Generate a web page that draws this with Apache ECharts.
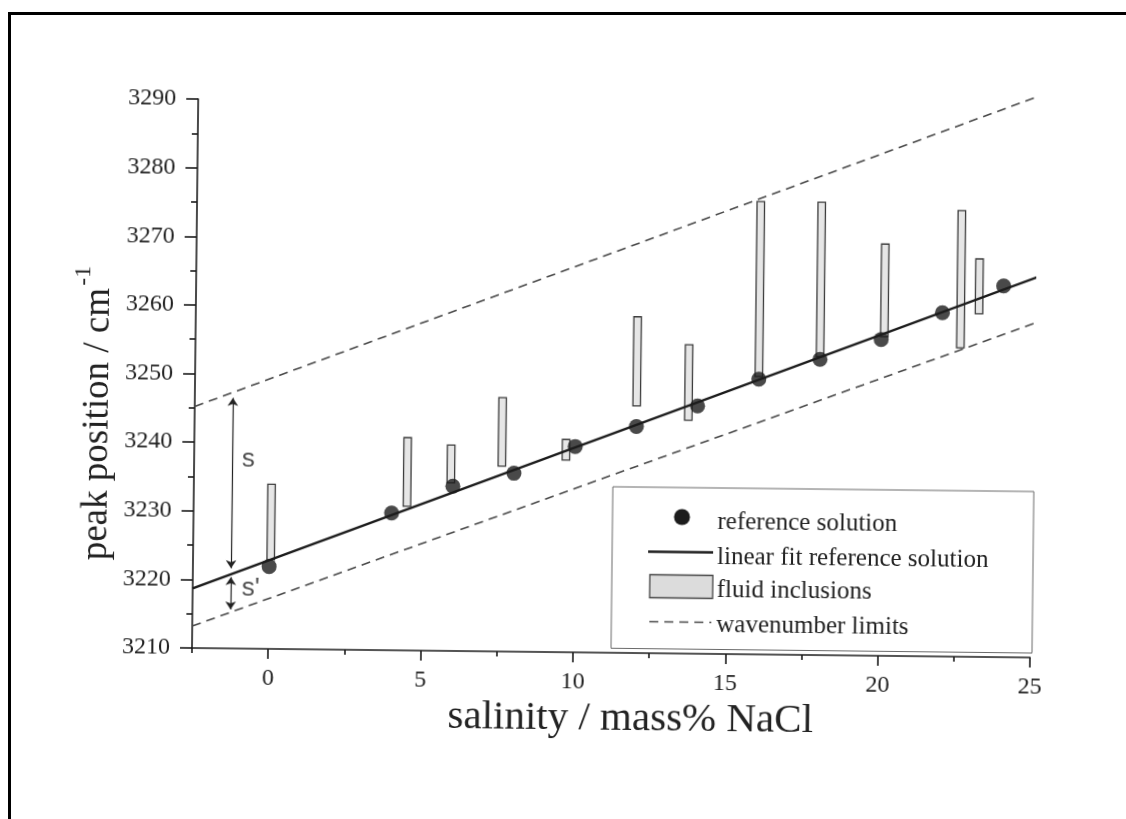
<!DOCTYPE html>
<html>
<head>
<meta charset="utf-8">
<script src="https://cdn.jsdelivr.net/npm/echarts@6/dist/echarts.min.js"></script>
<style>
  html, body { margin: 0; padding: 0; background: #fff; overflow: hidden; }
  #chart { position: absolute; left: 0; top: 0; width: 1126px; height: 819px;
           transform: rotate(0.65deg); transform-origin: 192px 648px; }
  #frame { position: absolute; left: 8px; top: 12px; width: 1200px; height: 900px;
           border-top: 3px solid #000; border-left: 3px solid #000; pointer-events: none; }
</style>
</head>
<body>
<div id="chart"></div>
<div id="frame"></div>
<script>
// Reference solutions: salinity (mass% NaCl) and Raman peak position (cm-1)
const refSalinity = [0, 4, 6, 8, 10, 12, 14, 16, 18, 20, 22, 24];
const refPeak = [3222.0, 3230.0, 3234.0, 3236.0, 3240.0, 3243.0, 3246.1, 3250.1, 3253.1, 3256.1, 3260.1, 3264.1];

// Linear fit of the reference solutions (end points)
const fitSalinity = [-2.5, 25.2];
const fitPeak = [3218.7, 3265.6];

// Wavenumber limits (end points)
const limitSalinity = [-2.5, 25.2];
const upperLimit = [3245.2, 3292.0];
const lowerLimit = [3213.2, 3259.0];

// Fluid inclusions: salinity and peak-position range
const inclusionSalinity = [0.05, 4.5, 5.93, 7.6, 9.7, 12.0, 13.7, 16.0, 18.0, 20.1, 22.6, 23.2];
const inclusionLow  = [3223.0, 3231.0, 3234.5, 3237.0, 3238.0, 3246.0, 3244.0, 3250.5, 3253.5, 3256.5, 3255.0, 3260.0];
const inclusionHigh = [3234.0, 3241.0, 3240.0, 3247.0, 3241.0, 3259.0, 3255.0, 3276.0, 3276.0, 3270.0, 3275.0, 3268.0];

// s / s' distance arrows and their labels
const arrowSalinity = -1.25;
const arrowS = [3246.5, 3221.7];
const arrowSPrime = [3220.4, 3215.7];
const arrowLabels = ['s', "s'"];
const arrowLabelPos = [[-0.72, 3237.5], [-0.6, 3218.8]];

// Axis ticks
const xTickValues = [0, 5, 10, 15, 20, 25];
const xMinorTickValues = [-2.5, 2.5, 7.5, 12.5, 17.5, 22.5];

// Legend entries
const legendNames = ['reference solution', 'linear fit reference solution', 'fluid inclusions', 'wavenumber limits'];

const SERIF = "'Liberation Serif', 'Times New Roman', serif";
const SANS = "'Liberation Sans', Arial, sans-serif";
const INK = '#1c1c1c';

const zip = (xs, ys) => xs.map((x, i) => [x, ys[i]]);

const chart = echarts.init(document.getElementById('chart'), null, { renderer: 'canvas' });

const axisLineStyle = { color: INK, width: 1.6 };

const option = {
  animation: false,
  grid: { left: 192, top: 99, width: 838, height: 549, outerBoundsMode: 'none' },
  xAxis: [
    {
      type: 'value', min: -2.5, max: 25, position: 'bottom',
      axisLine: { show: true, onZero: false, lineStyle: axisLineStyle },
      axisTick: { show: true, customValues: xTickValues, length: 10, lineStyle: axisLineStyle },
      axisLabel: { show: true, customValues: xTickValues, formatter: v => String(v),
                   fontFamily: SERIF, fontSize: 24, color: '#222', margin: 18 },
      splitLine: { show: false }
    },
    {
      type: 'value', min: -2.5, max: 25, position: 'bottom',
      axisLine: { show: false },
      axisTick: { show: true, customValues: xMinorTickValues, length: 5, lineStyle: axisLineStyle },
      axisLabel: { show: false },
      splitLine: { show: false }
    }
  ],
  yAxis: {
    type: 'value', min: 3210, max: 3290, interval: 10,
    axisLine: { show: true, onZero: false, lineStyle: axisLineStyle },
    axisTick: { show: true, length: 12, lineStyle: axisLineStyle },
    minorTick: { show: true, splitNumber: 2, length: 6, lineStyle: axisLineStyle },
    axisLabel: { formatter: v => String(v), fontFamily: SERIF, fontSize: 24, color: '#222', margin: 22 },
    splitLine: { show: false }
  },
  series: [
    {
      name: legendNames[2], type: 'custom', z: 2,
      data: inclusionSalinity.map((x, i) => [x, inclusionLow[i], inclusionHigh[i]]),
      encode: { x: 0, y: [1, 2] },
      renderItem: function (params, api) {
        const top = api.coord([api.value(0), api.value(2)]);
        const bottom = api.coord([api.value(0), api.value(1)]);
        const w = 7.5;
        return {
          type: 'rect',
          shape: { x: top[0] - w / 2, y: top[1], width: w, height: bottom[1] - top[1] },
          style: { fill: '#e6e6e6', stroke: '#3c3c3c', lineWidth: 1.3 }
        };
      }
    },
    {
      name: legendNames[3], type: 'line', z: 3, clip: false, symbol: 'none',
      data: zip(limitSalinity, upperLimit),
      lineStyle: { color: '#4a4a4a', width: 1.6, type: [9, 6] }
    },
    {
      name: legendNames[3], type: 'line', z: 3, clip: false, symbol: 'none',
      data: zip(limitSalinity, lowerLimit),
      lineStyle: { color: '#4a4a4a', width: 1.6, type: [9, 6] }
    },
    {
      name: legendNames[1], type: 'line', z: 4, clip: false, symbol: 'none',
      data: zip(fitSalinity, fitPeak),
      lineStyle: { color: INK, width: 2.4 }
    },
    {
      name: legendNames[0], type: 'scatter', z: 5,
      data: zip(refSalinity, refPeak),
      symbol: 'circle', symbolSize: 15,
      itemStyle: { color: INK }
    },
    {
      type: 'lines', coordinateSystem: 'cartesian2d', z: 6,
      data: [
        { coords: [[arrowSalinity, arrowS[0]], [arrowSalinity, arrowS[1]]] },
        { coords: [[arrowSalinity, arrowSPrime[0]], [arrowSalinity, arrowSPrime[1]]] }
      ],
      symbol: ['arrow', 'arrow'], symbolSize: 8,
      lineStyle: { color: '#222', width: 1.2, opacity: 1 }
    },
    {
      type: 'scatter', z: 6, symbolSize: 1, itemStyle: { color: 'rgba(0,0,0,0)' },
      data: arrowLabels.map((t, i) => ({ name: t, value: arrowLabelPos[i] })),
      label: {
        show: true, position: 'inside', formatter: p => p.name,
        fontFamily: SANS, fontSize: 26, color: '#222'
      }
    }
  ],
  graphic: [
    // y axis title with superscript
    {
      type: 'group', x: 95, y: 0, rotation: Math.PI / 2,
      children: [
        { type: 'text', x: -289, y: 0,
          style: { text: 'peak position / cm', font: '37px ' + SERIF, fill: '#222', align: 'right', verticalAlign: 'middle' } },
        { type: 'text', x: -287, y: -15,
          style: { text: '-1', font: '24px ' + SERIF, fill: '#222', align: 'left', verticalAlign: 'middle' } }
      ]
    },
    // x axis title
    {
      type: 'text', x: 631, y: 714,
      style: { text: 'salinity / mass% NaCl', font: '41px ' + SERIF, fill: '#222', align: 'center', verticalAlign: 'middle' }
    },
    // legend
    {
      type: 'group', z: 10,
      children: [
        { type: 'rect', shape: { x: 611, y: 482, width: 421, height: 161.5 },
          style: { fill: '#fff', stroke: '#6a6a6a', lineWidth: 1 } },
        { type: 'circle', shape: { cx: 680.5, cy: 511.5, r: 8 }, style: { fill: INK } },
        { type: 'text', x: 716, y: 516, style: { text: legendNames[0], font: '25px ' + SERIF, fill: '#222', verticalAlign: 'middle' } },
        { type: 'line', shape: { x1: 647, y1: 546.5, x2: 712, y2: 546.5 }, style: { stroke: INK, lineWidth: 2.4 } },
        { type: 'text', x: 716, y: 551, style: { text: legendNames[1], font: '25px ' + SERIF, fill: '#222', verticalAlign: 'middle' } },
        { type: 'rect', shape: { x: 649, y: 569.5, width: 63, height: 23 }, style: { fill: '#dcdcdc', stroke: '#444', lineWidth: 1.3 } },
        { type: 'text', x: 716, y: 584, style: { text: legendNames[2], font: '25px ' + SERIF, fill: '#222', verticalAlign: 'middle' } },
        { type: 'line', shape: { x1: 649, y1: 616.5, x2: 711, y2: 616.5 }, style: { stroke: '#4a4a4a', lineWidth: 1.6, lineDash: [9, 6] } },
        { type: 'text', x: 716, y: 619, style: { text: legendNames[3], font: '25px ' + SERIF, fill: '#222', verticalAlign: 'middle' } }
      ]
    }
  ]
};

chart.setOption(option);
</script>
</body>
</html>
